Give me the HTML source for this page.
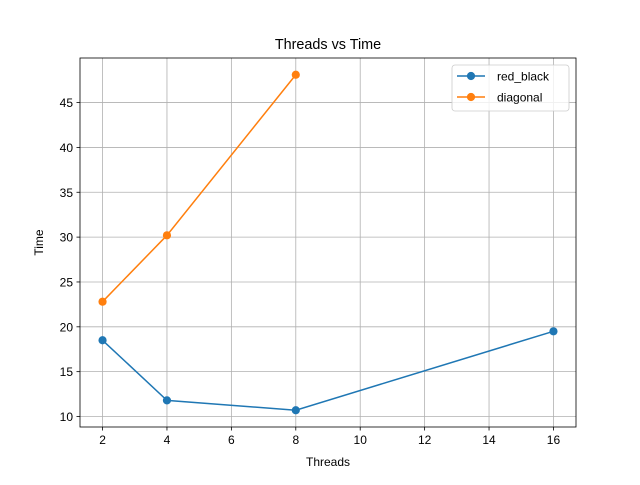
<!DOCTYPE html>
<html><head><meta charset="utf-8"><style>body{margin:0;background:#fff}svg{font-family:"Liberation Sans","DejaVu Sans",sans-serif}</style></head>
<body>
<svg id="chart" width="640" height="480"></svg>
<script>
const threads = [2, 4, 8, 16];
const redBlack = [18.5, 11.8, 10.7, 19.5];
const diagThreads = [2, 4, 8];
const diagonal = [22.8, 30.2, 48.1];
const xTicks = [2, 4, 6, 8, 10, 12, 14, 16];
const yTicks = [10, 15, 20, 25, 30, 35, 40, 45];

const L = 80, R = 576, T = 58, B = 427;
const allX = threads.concat(diagThreads), allY = redBlack.concat(diagonal);
let x0 = Math.min(...allX), x1 = Math.max(...allX), y0 = Math.min(...allY), y1 = Math.max(...allY);
const mx = (x1 - x0) * 0.05, my = (y1 - y0) * 0.05;
x0 -= mx; x1 += mx; y0 -= my; y1 += my;
const sx = v => L + (v - x0) / (x1 - x0) * (R - L);
const sy = v => B - (v - y0) / (y1 - y0) * (B - T);
const svg = document.getElementById('chart');
const NS = 'http://www.w3.org/2000/svg';
function mk(tag, attrs, parent) { const e = document.createElementNS(NS, tag); for (const k in attrs) e.setAttribute(k, attrs[k]); (parent || svg).appendChild(e); return e; }

xTicks.forEach(v => {
  const g = mk('line', {x1: sx(v), x2: sx(v), y1: T, y2: B, stroke: '#b0b0b0', 'stroke-width': 0.8});
  
  
  mk('line', {x1: sx(v), x2: sx(v), y1: B, y2: B + 3.5, stroke: '#000', 'stroke-width': 0.8});
  const t = mk('text', {x: sx(v), y: B + 17, 'text-anchor': 'middle', 'font-size': 12});
  t.textContent = v;
  
  
});
yTicks.forEach(v => {
  const g = mk('line', {x1: L, x2: R, y1: sy(v), y2: sy(v), stroke: '#b0b0b0', 'stroke-width': 0.8});
  
  
  mk('line', {x1: L - 3.5, x2: L, y1: sy(v), y2: sy(v), stroke: '#000', 'stroke-width': 0.8});
  const t = mk('text', {x: L - 7, y: sy(v) + 4.5, 'text-anchor': 'end', 'font-size': 12});
  t.textContent = v;
  
  
});
const frame = mk('rect', {x: L, y: T, width: R - L, height: B - T, fill: 'none', stroke: '#000', 'stroke-width': 0.8});



function series(xs, ys, color, name) {
  const p = mk('polyline', {points: xs.map((x, i) => sx(x) + ',' + sy(ys[i])).join(' '), fill: 'none', stroke: color, 'stroke-width': 1.5});
  
  
  xs.forEach((x, i) => {
    const c = mk('circle', {cx: sx(x), cy: sy(ys[i]), r: 4.1, fill: color});
    
    
  });
}
series(threads, redBlack, '#1f77b4', 'red-black');
series(diagThreads, diagonal, '#ff7f0e', 'diagonal');

const title = mk('text', {x: (L + R) / 2, y: 49, 'text-anchor': 'middle', 'font-size': 14.4});
title.textContent = 'Threads vs Time';


const xt = mk('text', {x: (L + R) / 2, y: 466, 'text-anchor': 'middle', 'font-size': 12});
xt.textContent = 'Threads';


const yt = mk('text', {x: 43, y: (T + B) / 2, 'text-anchor': 'middle', 'font-size': 12, transform: 'rotate(-90 43 ' + (T + B) / 2 + ')'});
yt.textContent = 'Time';



const lg = mk('g', {});


mk('rect', {x: 452, y: 65, width: 117, height: 46, rx: 3, fill: '#fff', 'fill-opacity': 0.8, stroke: '#ccc', 'stroke-width': 0.8}, lg);
[['red_black', '#1f77b4'], ['diagonal', '#ff7f0e']].forEach((d, i) => {
  const y = 76 + i * 21;
  mk('line', {x1: 457, x2: 485, y1: y, y2: y, stroke: d[1], 'stroke-width': 1.5}, lg);
  mk('circle', {cx: 471, cy: y, r: 4.1, fill: d[1]}, lg);
  const t = mk('text', {x: 497, y: y + 4.5, 'font-size': 12}, lg);
  t.textContent = d[0];
  
  
});
</script>
</body></html>
